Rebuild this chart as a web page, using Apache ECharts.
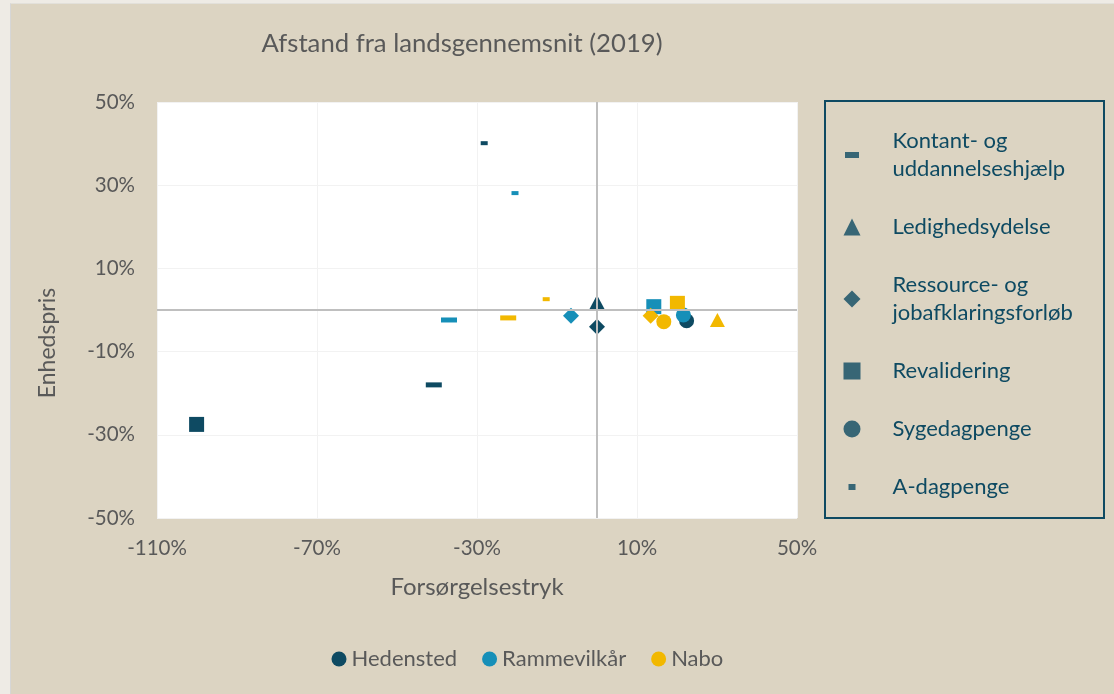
<!DOCTYPE html>
<html>
<head>
<meta charset="utf-8">
<script src="https://cdn.jsdelivr.net/npm/echarts@6/dist/echarts.min.js"></script>
<style>
html,body{margin:0;padding:0;background:#EEEBE5;width:1114px;height:694px;overflow:hidden;}
#bg{position:absolute;left:10px;top:3px;right:0;bottom:0;background:#DCD4C2;border-left:1px solid #D6D6D6;border-top:1px solid #E2E0DA;}
#c{position:absolute;left:0;top:0;width:1114px;height:694px;}
</style>
</head>
<body>
<div id="bg"></div>
<div id="c"></div>
<script>
// ---- data ----
const types = ['Kontant- og uddannelseshjælp', 'Ledighedsydelse', 'Ressource- og jobafklaringsforløb', 'Revalidering', 'Sygedagpenge', 'A-dagpenge'];
const typeLabels = ['Kontant- og\nuddannelseshjælp', 'Ledighedsydelse', 'Ressource- og\njobafklaringsforløb', 'Revalidering', 'Sygedagpenge', 'A-dagpenge'];
const groups = ['Hedensted', 'Rammevilkår', 'Nabo'];
// Forsørgelsestryk (x) and Enhedspris (y), % distance from national average, in order of `types`
const hedenstedX = [-40.8, 0.0, 0.0, -100.1, 22.4, -28.2];
const hedenstedY = [-18.0, 1.9, -4.0, -27.5, -2.6, 40.1];
const rammevilkaarX = [-37.0, null, -6.5, 14.2, 21.6, -20.5];
const rammevilkaarY = [-2.4, null, -1.4, 0.8, -1.2, 28.1];
const naboX = [-22.2, 30.1, 13.4, 20.1, 16.7, -12.7];
const naboY = [-1.9, -2.4, -1.4, 1.6, -2.8, 2.6];
const xTicks = [-110, -70, -30, 10, 50];
const yTicks = [-50, -30, -10, 10, 30, 50];

// ---- styles ----
const FONT = 'Lato';
const groupColors = ['#0E4A62', '#168FB8', '#F2B800'];
const dark = '#0E4A62';
const gray = '#595959';
const symbols = ['rect', 'triangle', 'diamond', 'rect', 'circle', 'rect'];
const symbolSizes = [[16, 5], [15, 14], [16, 16], [15, 15], [15, 15], [7, 4]];
const legendIcons = [
  'path://M0,0M17,17M1.5,5.5h14v6h-14z',
  'triangle', 'diamond', 'rect', 'circle',
  'path://M0,0M17,17M5,5.5h7v6h-7z'
];

const xMin = xTicks[0], xMax = xTicks[xTicks.length - 1], xStep = xTicks[1] - xTicks[0];
const yMin = yTicks[0], yMax = yTicks[yTicks.length - 1], yStep = yTicks[1] - yTicks[0];

const groupX = [hedenstedX, rammevilkaarX, naboX];
const groupY = [hedenstedY, rammevilkaarY, naboY];

const mainSeries = groups.map((g, gi) => ({
  type: 'scatter',
  name: g,
  symbol: 'circle',
  itemStyle: { color: groupColors[gi], opacity: 1 },
  z: 3,
  data: types.map((t, i) => {
    if (groupX[gi][i] == null) return null;
    return {
      name: t,
      value: [groupX[gi][i] - xMin, groupY[gi][i] - yMin],
      symbol: symbols[i],
      symbolSize: symbolSizes[i]
    };
  }).filter(d => d)
}));

const dummySeries = types.map((t, i) => ({
  type: 'scatter', name: t, symbol: symbols[i], data: [],
  itemStyle: { color: dark }
}));

const zeroSeries = {
  type: 'line', name: '_zero', data: [], silent: true, z: 1,
  markLine: {
    silent: true, symbol: ['none', 'none'], animation: false,
    label: { show: false },
    lineStyle: { color: '#BFBFBF', width: 2, type: 'solid' },
    emphasis: { disabled: true },
    data: [{ xAxis: 0 - xMin }, { yAxis: 0 - yMin }]
  }
};

const chart = echarts.init(document.getElementById('c'), null, { renderer: 'canvas' });
chart.setOption({
  animation: false,
  backgroundColor: 'transparent',
  textStyle: { fontFamily: FONT },
  title: {
    text: 'Afstand fra landsgennemsnit (2019)',
    left: 457, top: 26, textAlign: 'center',
    textStyle: { color: gray, fontSize: 25.7, fontWeight: 'normal', fontFamily: FONT }
  },
  grid: {
    left: 157, top: 102, width: 640, height: 416,
    show: true, backgroundColor: '#FFFFFF', borderWidth: 0
  },
  xAxis: {
    type: 'value', min: 0, max: xMax - xMin, interval: xStep,
    axisLine: { show: false }, axisTick: { show: false },
    splitLine: { show: true, lineStyle: { color: '#F2F2F2', width: 1 } },
    axisLabel: { formatter: v => (v + xMin) + '%', color: gray, fontSize: 20.5, margin: 20, fontFamily: FONT },
    name: 'Forsørgelsestryk', nameLocation: 'middle', nameGap: 57,
    nameTextStyle: { color: gray, fontSize: 24, fontFamily: FONT }
  },
  yAxis: {
    type: 'value', min: 0, max: yMax - yMin, interval: yStep,
    axisLine: { show: false }, axisTick: { show: false },
    splitLine: { show: true, lineStyle: { color: '#F2F2F2', width: 1 } },
    axisLabel: { formatter: v => (v + yMin) + '%', color: gray, fontSize: 20.5, margin: 22, fontFamily: FONT }
  },
  graphic: [
    {
      type: 'text', x: 48, y: 343, rotation: Math.PI / 2,
      style: { text: 'Enhedspris', fill: gray, fontSize: 23, fontFamily: FONT, align: 'center', verticalAlign: 'middle' }
    },
    {
      type: 'rect', shape: { x: 825, y: 101, width: 279, height: 417 },
      style: { fill: 'none', stroke: dark, lineWidth: 2 }
    }
  ],
  legend: [
    {
      orient: 'vertical', left: 843.5, top: 127, padding: 0, itemGap: 30,
      itemWidth: 17, itemHeight: 17, selectedMode: false,
      data: types.map((t, i) => ({ name: t, icon: legendIcons[i] })),
      formatter: name => typeLabels[types.indexOf(name)],
      textStyle: { color: dark, fontSize: 22, lineHeight: 28, fontFamily: FONT, padding: [0, 0, 0, 27] }
    },
    {
      orient: 'horizontal', left: 331.5, top: 646, padding: 0, itemGap: 25,
      itemWidth: 15, itemHeight: 15, selectedMode: false,
      data: groups.map(g => ({ name: g, icon: 'circle' })),
      textStyle: { color: gray, fontSize: 22, lineHeight: 26, fontFamily: FONT }
    }
  ],
  series: [zeroSeries].concat(mainSeries, dummySeries)
});
</script>
</body>
</html>
